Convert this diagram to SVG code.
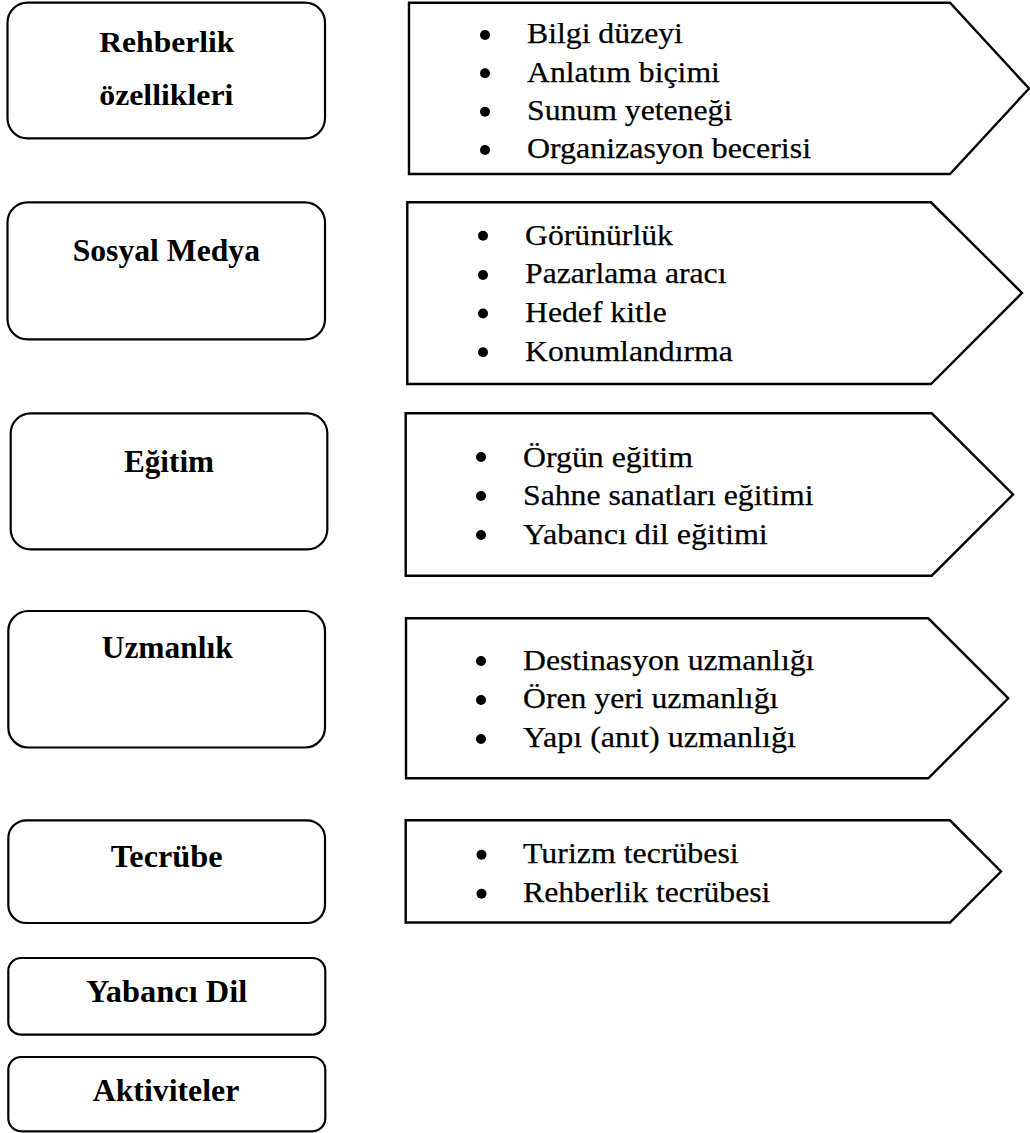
<svg xmlns="http://www.w3.org/2000/svg" width="1030" height="1133" viewBox="0 0 1030 1133">
<style>
.box{fill:#fff;stroke:#000;stroke-width:2.2}
.arrow{fill:#fff;stroke:#000;stroke-width:2.4;stroke-linejoin:miter}
.title{font-family:"Liberation Serif","Times New Roman",serif;font-weight:bold;font-size:31.5px;fill:#000}
.item{font-family:"Liberation Serif","Times New Roman",serif;font-size:29.5px;fill:#000;stroke:#000;stroke-width:0.25}
.dot{fill:#000}
</style>
<defs>
<clipPath id="clipTop"><rect x="400" y="0" width="630" height="165.5"/></clipPath>
</defs>
<rect width="1030" height="1133" fill="#fff"/>
<g id="connectors"></g>

<g id="node-rehberlik">
<rect class="box" x="7.5" y="2.7" width="317.5" height="135.6" rx="20"/>
<text class="title" style="font-size:29.5px" x="99.3" y="51.7" textLength="135" lengthAdjust="spacingAndGlyphs">Rehberlik</text>
<text class="title" style="font-size:29.5px" x="99.3" y="105" textLength="134" lengthAdjust="spacingAndGlyphs">özellikleri</text>
</g>

<g id="node-sosyal-medya">
<rect class="box" x="7.5" y="202.3" width="317.5" height="137" rx="20"/>
<text class="title" x="72.7" y="261" textLength="187.3" lengthAdjust="spacingAndGlyphs">Sosyal Medya</text>
</g>

<g id="node-egitim">
<rect class="box" x="10.7" y="413.3" width="316.6" height="136" rx="20"/>
<text class="title" x="124" y="471.7" textLength="90" lengthAdjust="spacingAndGlyphs">Eğitim</text>
</g>

<g id="node-uzmanlik">
<rect class="box" x="8.3" y="611" width="316.7" height="136.5" rx="20"/>
<text class="title" x="101.7" y="658.3" textLength="131" lengthAdjust="spacingAndGlyphs">Uzmanlık</text>
</g>

<g id="node-tecrube">
<rect class="box" x="8.3" y="820.3" width="316.7" height="102.7" rx="18"/>
<text class="title" x="110.7" y="867" textLength="112" lengthAdjust="spacingAndGlyphs">Tecrübe</text>
</g>

<g id="node-yabanci-dil">
<rect class="box" x="8.3" y="958" width="317" height="76.7" rx="13"/>
<text class="title" x="86" y="1002.3" textLength="161.3" lengthAdjust="spacingAndGlyphs">Yabancı Dil</text>
</g>

<g id="node-aktiviteler">
<rect class="box" x="8.3" y="1057" width="317" height="74.3" rx="13"/>
<text class="title" x="92.7" y="1101.3" textLength="146.6" lengthAdjust="spacingAndGlyphs">Aktiviteler</text>
</g>

<g id="node-list-rehberlik">
<polygon class="arrow" points="409,2.7 950,2.7 1029,88.5 950,174 409,174"/>
<circle class="dot" cx="485" cy="35" r="5"/>
<circle class="dot" cx="485" cy="73.3" r="5"/>
<circle class="dot" cx="485" cy="111.7" r="5"/>
<circle class="dot" cx="485" cy="150" r="5"/>
<g clip-path="url(#clipTop)">
<text class="item" x="527" y="43.3" textLength="155.9" lengthAdjust="spacingAndGlyphs">Bilgi düzeyi</text>
<text class="item" x="527" y="81.7" textLength="192.9" lengthAdjust="spacingAndGlyphs">Anlatım biçimi</text>
<text class="item" x="527" y="120" textLength="205.2" lengthAdjust="spacingAndGlyphs">Sunum yeteneği</text>
<text class="item" x="527" y="158" textLength="284" lengthAdjust="spacingAndGlyphs">Organizasyon becerisi</text>
</g>
</g>

<g id="node-list-sosyal">
<polygon class="arrow" points="407.3,202.3 931,202.3 1022,293 931,384 407.3,384"/>
<circle class="dot" cx="483" cy="235.7" r="5"/>
<circle class="dot" cx="483" cy="275" r="5"/>
<circle class="dot" cx="483" cy="313.5" r="5"/>
<circle class="dot" cx="483" cy="352.3" r="5"/>
<text class="item" x="525" y="244.5" textLength="147.9" lengthAdjust="spacingAndGlyphs">Görünürlük</text>
<text class="item" x="525" y="283" textLength="201.5" lengthAdjust="spacingAndGlyphs">Pazarlama aracı</text>
<text class="item" x="525" y="321.7" textLength="141.7" lengthAdjust="spacingAndGlyphs">Hedef kitle</text>
<text class="item" x="525" y="361" textLength="207.8" lengthAdjust="spacingAndGlyphs">Konumlandırma</text>
</g>

<g id="node-list-egitim">
<polygon class="arrow" points="405.7,413.3 931.7,413.3 1013,494.5 931.7,575.7 405.7,575.7"/>
<circle class="dot" cx="481" cy="457" r="5"/>
<circle class="dot" cx="481" cy="496" r="5"/>
<circle class="dot" cx="481" cy="535" r="5"/>
<text class="item" x="523" y="466.7" textLength="169.9" lengthAdjust="spacingAndGlyphs">Örgün eğitim</text>
<text class="item" x="523" y="505" textLength="290.6" lengthAdjust="spacingAndGlyphs">Sahne sanatları eğitimi</text>
<text class="item" x="523" y="543.5" textLength="244.8" lengthAdjust="spacingAndGlyphs">Yabancı dil eğitimi</text>
</g>

<g id="node-list-uzmanlik">
<polygon class="arrow" points="406,618.3 928.3,618.3 1008.3,698.3 928.3,778.3 406,778.3"/>
<circle class="dot" cx="481" cy="661" r="5"/>
<circle class="dot" cx="481" cy="700" r="5"/>
<circle class="dot" cx="481" cy="739" r="5"/>
<text class="item" x="523" y="670" textLength="291.4" lengthAdjust="spacingAndGlyphs">Destinasyon uzmanlığı</text>
<text class="item" x="523" y="708.3" textLength="255.3" lengthAdjust="spacingAndGlyphs">Ören yeri uzmanlığı</text>
<text class="item" x="523" y="746.7" textLength="272.9" lengthAdjust="spacingAndGlyphs">Yapı (anıt) uzmanlığı</text>
</g>

<g id="node-list-tecrube">
<polygon class="arrow" points="405.7,820.3 950,820.3 1001,871.5 950,922.5 405.7,922.5"/>
<circle class="dot" cx="481.5" cy="854.7" r="5"/>
<circle class="dot" cx="481.5" cy="893.7" r="5"/>
<text class="item" x="523" y="863.3" textLength="215.7" lengthAdjust="spacingAndGlyphs">Turizm tecrübesi</text>
<text class="item" x="523" y="901.7" textLength="247.4" lengthAdjust="spacingAndGlyphs">Rehberlik tecrübesi</text>
</g>
</svg>
